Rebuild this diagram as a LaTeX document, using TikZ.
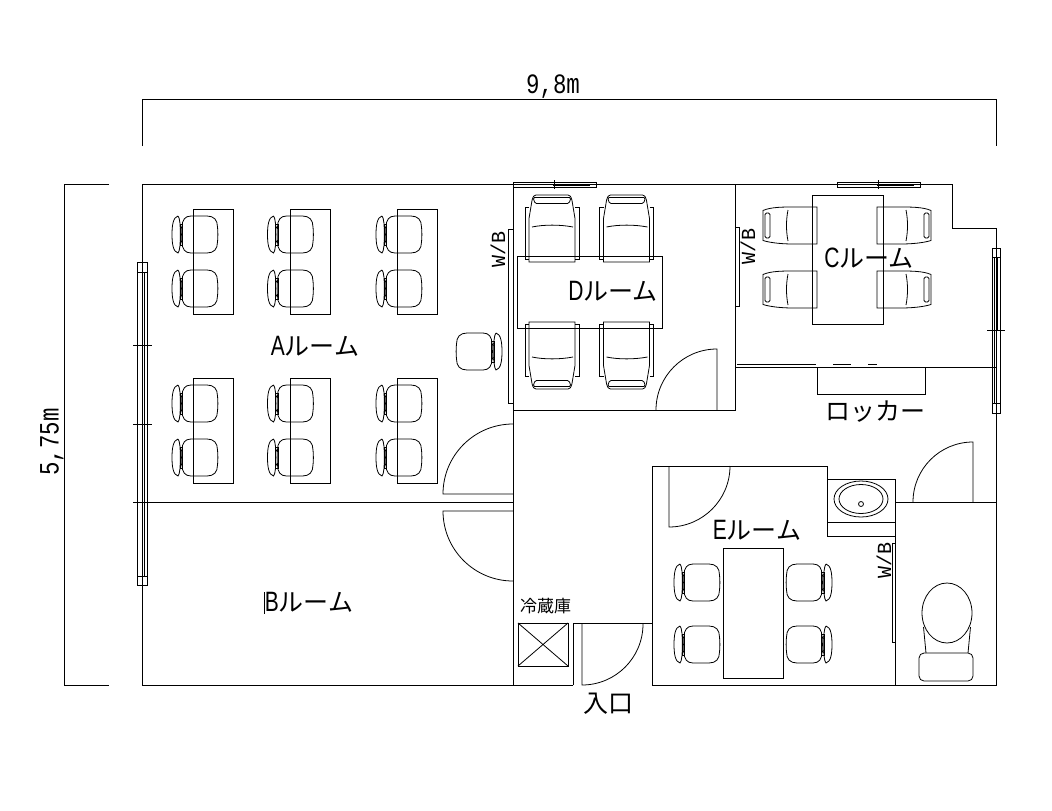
\documentclass[tikz,border=0pt]{standalone}
\usepackage{fontspec}
\newfontfamily\jpfont{Noto Sans CJK JP}
\newfontfamily\latfont[FakeStretch=0.75]{Liberation Sans}
\newfontfamily\dimfont[FakeStretch=0.8]{Liberation Mono}
\newfontfamily\wbfont{Liberation Mono}
\newcommand{\roomname}[1]{{\fontsize{28}{28}\selectfont\latfont #1}{\fontsize{25}{25}\selectfont\jpfont ルーム}}
\tikzset{
  wall/.style={line width=1pt},
  thin line/.style={line width=0.8pt},
  roomlabel/.style={inner sep=0pt, font=\fontsize{25}{25}\selectfont},
  dimlabel/.style={inner sep=0pt, font=\fontsize{28}{28}\selectfont\dimfont},
  wblabel/.style={inner sep=0pt, rotate=90, font=\fontsize{20}{20}\selectfont\wbfont},
  pics/deskchair/.style={code={
    \draw[thin line] (19,0) -- (35,0) .. controls (42,0) and (45.5,4) .. (45.5,11) .. controls (46,15) and (46,22) .. (45.5,26)
      .. controls (45.5,33) and (42,37) .. (35,37) -- (19,37) .. controls (13,37) and (10,33) .. (10,26)
      .. controls (9.5,22) and (9.5,15) .. (10,11) .. controls (10,4) and (13,0) .. (19,0);
    \draw[thin line] (6,0) .. controls (1,1) and (0,10) .. (0,18.5) .. controls (0,27) and (1,36) .. (6,37)
      .. controls (8,35) and (8.3,27) .. (8.3,18.5) .. controls (8.3,10) and (8,2) .. (6,0);
    \draw[line width=0.5pt] (8,8) rectangle (10.5,29);
    \draw[line width=0.5pt] (8,10) -- (10.5,13) (10.5,10) -- (8,13) (8,24) -- (10.5,27) (10.5,24) -- (8,27);
  }},
  pics/armchair/.style={code={
    % origin at the centre of the chair, backrest to the top
    \draw[thin line] (-23,33.5) -- (-23,-10) -- (-20,-28) .. controls (-19,-32) and (-18,-33.5) .. (-16,-33.5)
      -- (16,-33.5) .. controls (18,-33.5) and (19,-32) .. (20,-28) -- (23,-10) -- (23,33.5) -- cycle;
    \draw[thin line] (-23,-21) -- (-27,-21) -- (-27,31) -- (-23,31);
    \draw[thin line] (23,-21) -- (27,-21) -- (27,31) -- (23,31);
    \draw[thin line, rounded corners=1.5pt] (-19,-31) -- (19,-31) -- (17,-25) -- (-17,-25) -- cycle;
    \draw[thin line] (-20,-1.5) .. controls (-8,-4) and (8,-4) .. (21,-1.5);
  }},
  pics/sidechair/.style={code={
    % backrest to the left, seat under the table on the right
    \draw[thin line] (54,0) -- (30,0) .. controls (20,0) and (8,0) .. (0,3.5) -- (0,33.5) .. controls (8,36) and (20,37) .. (30,37) -- (54,37) -- cycle;
    \draw[thin line, rounded corners=1.5pt] (2,6) rectangle (7,31);
    \draw[thin line] (25,3) .. controls (23,13) and (23,24) .. (25,34);
  }}
}
\begin{document}
\begin{tikzpicture}[x=1pt, y=-1pt]
  \useasboundingbox (0,0) rectangle (1052,811);
  % dimensions
  \draw[wall] (142,146) -- (142,99) -- (996,99) -- (996,146);
  \draw[wall] (109,184) -- (64,184) -- (64,685) -- (109,685);
  \node[dimlabel] (widthlabel) at (553,87) {9,8m};
  \node[dimlabel, rotate=90] (heightlabel) at (52,442) {5,75m};
  % outer walls
  \draw[wall] (142,184) -- (952,184) -- (952,228) -- (996,228) -- (996,685) -- (652,685);
  \draw[wall] (573,685) -- (142,685) -- (142,184);
  % inner walls
  \draw[wall] (142,502) -- (513,502);
  \draw[wall] (513,184) -- (513,685);
  \draw[wall] (513,410) -- (735,410) -- (735,184);
  \draw[wall] (735,367) -- (996,367);
  \draw[wall] (573,685) -- (573,623.5) -- (652,623.5);
  \draw[wall] (652,685) -- (652,466) -- (827,466) -- (827,536) -- (895,536);
  \draw[wall] (827,479) -- (895,479);
  \draw[wall] (827,522) -- (895,522);
  \draw[wall] (895,479) -- (895,685);
  \draw[wall] (895,502) -- (996,502);
  % doors
  \draw[thin line] (513,424) arc (270:180:70) -- (513,494);
  \draw[thin line] (513,511) -- (443,511) arc (180:90:70);
  \draw[thin line] (717,410) -- (717,349) arc (270:180:61);
  \draw[thin line] (730,466) arc (0:90:61) -- (669,466);
  \draw[thin line] (973,502) -- (973,442) arc (270:180:60);
  \draw[thin line] (582,623.5) -- (582,685) arc (90:0:61);
  % left window
  \draw[thin line] (137.5,262) rectangle (147,585);
  \draw[thin line] (137.5,272) -- (147,272) (137.5,576) -- (147,576);
  \draw[thin line] (142,272) -- (142,502) (144.5,272) -- (144.5,502) (144,498) -- (144,576) (142,502) -- (142,576);
  \foreach \yy in {345,424,502} \draw[thin line] (133,\yy) -- (152,\yy);
  % right window
  \draw[thin line] (992,248) rectangle (1000,413);
  \draw[thin line] (992,257) -- (1000,257) (992,403) -- (1000,403);
  \draw[thin line] (994.5,257) -- (994.5,403) (997.5,257) -- (997.5,330);
  \draw[thin line] (987,330) -- (1005,330);
  % top windows
  \foreach \xx in {513,837} {
    \draw[thin line] (\xx,182) rectangle (\xx+83,187);
    \draw[line width=1.6pt] (\xx+3,184.5) -- (\xx+40,184.5);
    \draw[thin line] (\xx+40,185) -- (\xx+77,185);
    \draw[thin line] (\xx+41,180) -- (\xx+41,189);
  }
  % white boards
  \draw[thin line] (508,229) rectangle (513,403);
  \draw[thin line] (735,227) rectangle (739,306);
  \draw[thin line] (892,543) rectangle (895,642);
  \node[wblabel] (wbD) at (498,249) {W/B};
  \node[wblabel] (wbC) at (748,246) {W/B};
  \node[wblabel] (wbE) at (884,560) {W/B};
  % desks and chairs, A room
  \foreach \xx/\cc in {193/172,290/267.5,397/376} {
    \foreach \yy/\rr in {209/216,378/385} {
      \draw[thin line] (\xx,\yy) rectangle (\xx+40,\yy+105);
      \pic at (\cc,\rr) {deskchair};
      \pic at (\cc,\rr+54) {deskchair};
    }
  }
  \pic[xscale=-1] at (502,333) {deskchair};
  % D room
  \draw[thin line] (517,256) rectangle (662,328);
  \foreach \xx in {552,626.5} {
    \pic at (\xx,228.5) {armchair};
    \pic[yscale=-1] at (\xx,355.5) {armchair};
  }
  % C room
  \draw[thin line] (812,195) rectangle (883,324);
  \foreach \yy in {207,271} {
    \pic at (763,\yy) {sidechair};
    \pic[xscale=-1] at (931,\yy) {sidechair};
  }
  % lockers
  \draw[thin line] (817,367) -- (817,394) -- (925,394) -- (925,367);
  \draw[thin line] (737,364) -- (816,364) (833,364) -- (851,364) (868,364) -- (877,364);
  % E room
  \draw[thin line] (723,548) rectangle (783,678);
  \foreach \yy in {564,626} {
    \pic at (674,\yy) {deskchair};
    \pic[xscale=-1] at (832,\yy) {deskchair};
  }
  % wash basin
  \draw[thin line] (861,499) ellipse (27 and 18);
  \draw[thin line] (861,499) ellipse (22 and 14.5);
  \draw[thin line] (861,504) circle (2.5);
  % toilet
  \draw[thin line] (947,613) ellipse (25 and 30);
  \draw[thin line] (923.5,627) -- (926,653) (970.5,627) -- (968,653);
  \draw[thin line, rounded corners=5pt] (919,653) rectangle (973,681);
  % refrigerator
  \draw[thin line] (518,623) rectangle (568,666);
  \draw[thin line] (518,623) -- (568,666) (518,666) -- (568,623);
  \node[inner sep=0pt, font=\fontsize{17}{17}\selectfont\jpfont] (fridgelabel) at (545.5,606) {冷蔵庫};
  % room names
  \node[roomlabel] (roomA) at (315,346) {\roomname{A}};
  \node[roomlabel] (roomB) at (309,602) {\roomname{B}};
  \node[roomlabel] (roomC) at (869,258) {\roomname{C}};
  \node[roomlabel] (roomD) at (613,291) {\roomname{D}};
  \node[roomlabel] (roomE) at (757,530) {\roomname{E}};
  \node[roomlabel] (lockerlabel) at (875,412) {\jpfont ロッカー};
  \node[roomlabel] (entrylabel) at (608,704) {\jpfont 入口};
  \draw[thin line] (264,592) -- (264,614);
\end{tikzpicture}
\end{document}
